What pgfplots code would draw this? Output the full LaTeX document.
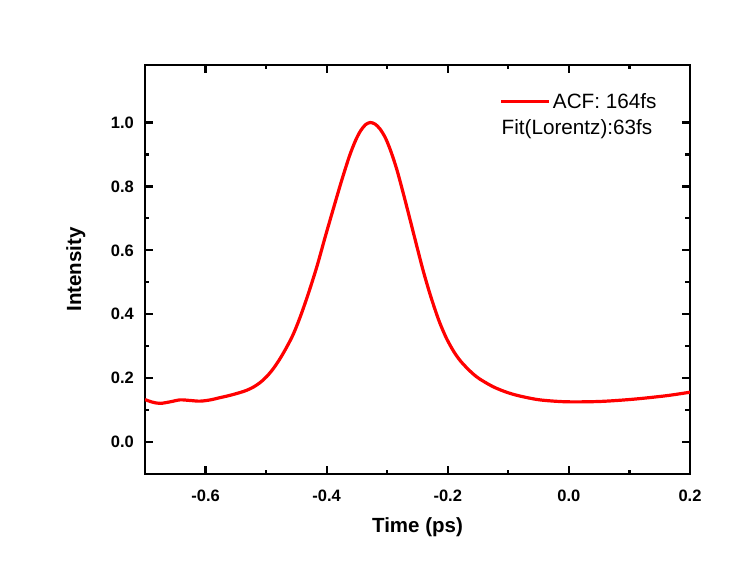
\documentclass[border=0pt]{standalone}
\usepackage{fontspec}
\setmainfont{Liberation Sans}
\usepackage{pgfplots}
\pgfplotsset{compat=1.18}
\begin{document}
\begin{tikzpicture}
\path[use as bounding box] (-145pt,-94pt) rectangle (584pt,474pt);
\begin{axis}[
  scale only axis,
  width=545pt, height=409pt,
  anchor=south west, at={(0pt,0pt)},
  xmin=-0.7, xmax=0.2,
  ymin=-0.1, ymax=1.18,
  xtick={-0.6,-0.4,-0.2,0,0.2},
  ytick={0,0.2,0.4,0.6,0.8,1.0},
  minor x tick num=1,
  minor y tick num=1,
  tick align=inside,
  xtick pos=both, ytick pos=both,
  xticklabel pos=lower, yticklabel pos=left,
  axis line style={line width=2.6pt},
  major tick length=8pt, minor tick length=4.5pt,
  every tick/.style={black, line width=2.2pt},
  /pgf/number format/assume math mode=true,
  /pgf/number format/fixed, /pgf/number format/fixed zerofill,
  /pgf/number format/precision=1,
  tick label style={font=\fontsize{16.5}{18}\selectfont\bfseries},
  yticklabel style={inner sep=0pt, anchor=east, xshift=-11pt},
  xticklabel style={inner sep=0pt, anchor=base, yshift=-27pt},
  xlabel={Time (ps)},
  ylabel={Intensity},
  label style={font=\fontsize{20.5}{22}\selectfont\bfseries},
  xlabel style={at={(axis description cs:0.5,-0.144)}, anchor=base, inner sep=0pt},
  ylabel style={at={(axis description cs:-0.117,0.5)}, anchor=base, rotate=0, inner sep=0pt},
  legend style={at={(axis description cs:0.651,0.91)}, anchor=west, draw=none, fill=none,
    inner sep=0pt, font=\fontsize{20.7}{22}\selectfont},
  legend image code/.code={\draw[red, line width=3pt] (0pt,0pt) -- (48pt,0pt);},
  legend cell align=left,
]
\addplot[red, line width=3.2pt, smooth] coordinates {
(-0.700,0.133) (-0.688,0.125) (-0.675,0.121) (-0.658,0.126) (-0.642,0.132)
(-0.625,0.130) (-0.609,0.128) (-0.592,0.132) (-0.576,0.139) (-0.560,0.146)
(-0.543,0.155) (-0.532,0.162) (-0.521,0.172) (-0.510,0.186) (-0.499,0.205)
(-0.488,0.230) (-0.477,0.261) (-0.466,0.297) (-0.455,0.338) (-0.443,0.395)
(-0.430,0.466) (-0.416,0.550) (-0.403,0.638) (-0.389,0.730) (-0.375,0.820)
(-0.362,0.897) (-0.352,0.945) (-0.344,0.974) (-0.336,0.993) (-0.328,1.000)
(-0.320,0.995) (-0.312,0.980) (-0.303,0.952) (-0.294,0.910) (-0.284,0.852)
(-0.273,0.775) (-0.262,0.694) (-0.251,0.612) (-0.240,0.532) (-0.228,0.455)
(-0.215,0.382) (-0.203,0.328) (-0.191,0.286) (-0.180,0.256) (-0.169,0.233)
(-0.158,0.213) (-0.147,0.197) (-0.125,0.173) (-0.103,0.156) (-0.081,0.144)
(-0.048,0.132) (-0.004,0.126) (0.051,0.127) (0.106,0.134) (0.161,0.145)
(0.200,0.156)
};
\addlegendentry{ACF: 164fs}
\node[anchor=base west, inner sep=0pt, font=\fontsize{20.7}{22}\selectfont]
  at (axis description cs:0.654,0.829) {Fit(Lorentz):63fs};
\end{axis}
\end{tikzpicture}
\end{document}
